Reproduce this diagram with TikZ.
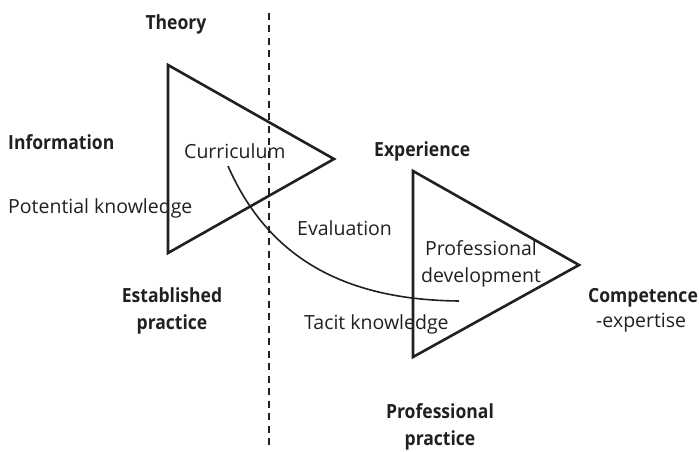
\documentclass[tikz,border=0pt]{standalone}
\usepackage{fontspec}
\setmainfont{Open Sans}[BoldFeatures={FakeStretch=0.9}]
\begin{document}
\begin{tikzpicture}[x=1pt,y=-1pt,
  lbl/.style={inner sep=0pt,font=\fontsize{19.5}{26.5}\selectfont,text=ink},
  blbl/.style={lbl,font=\fontsize{19.5}{26.5}\selectfont\bfseries},
  tri/.style={draw=ink,line width=2.6pt,line join=miter},
  cut/.style={draw=ink,line width=2.6pt,dash pattern=on 7pt off 5.5pt},
  arcline/.style={draw=ink,line width=1.6pt}]
\definecolor{ink}{HTML}{231F20}
\useasboundingbox (0,0) rectangle (699,452);
% triangles
\coordinate (t1a) at (168,65);
\coordinate (t1b) at (168,253);
\coordinate (t1c) at (334,159);
\coordinate (t2a) at (413,171);
\coordinate (t2b) at (413,357);
\coordinate (t2c) at (579,265);
\draw[tri] (t1a) -- (t1c) -- (t1b) -- cycle;
\draw[tri] (t2a) -- (t2c) -- (t2b) -- cycle;
% dashed divider
\coordinate (dtop) at (269,13);
\coordinate (dbot) at (269,450);
\draw[cut] (dtop) -- (dbot);
% curve
\coordinate (cs) at (228,166);
\coordinate (ce) at (459,301);
\draw[arcline] (cs) .. controls (270,262) and (350,300) .. (ce);
% labels
\node[blbl] (theory) at (176,24) {Theory};
\node[blbl,anchor=west] (info) at (8,142) {Information};
\node[lbl,anchor=west] (curr) at (184,151) {Curriculum};
\node[lbl,anchor=west] (pot) at (8,208) {Potential knowledge};
\node[blbl,anchor=west] (exp) at (374,151) {Experience};
\node[lbl,anchor=west] (eval) at (297,228) {Evaluation};
\node[lbl,align=center] (pd) at (481,264) {Professional\\development};
\node[blbl,align=center] (est) at (172,311) {Established\\practice};
\node[lbl,anchor=west] (tacit) at (304,324) {Tacit knowledge};
\node[blbl,anchor=west] (comp) at (588,298) {Competence};
\node[lbl,anchor=west] (expt) at (596,323) {-expertise};
\node[blbl,align=center] (pp) at (440,427) {Professional\\practice};
\end{tikzpicture}
\end{document}
